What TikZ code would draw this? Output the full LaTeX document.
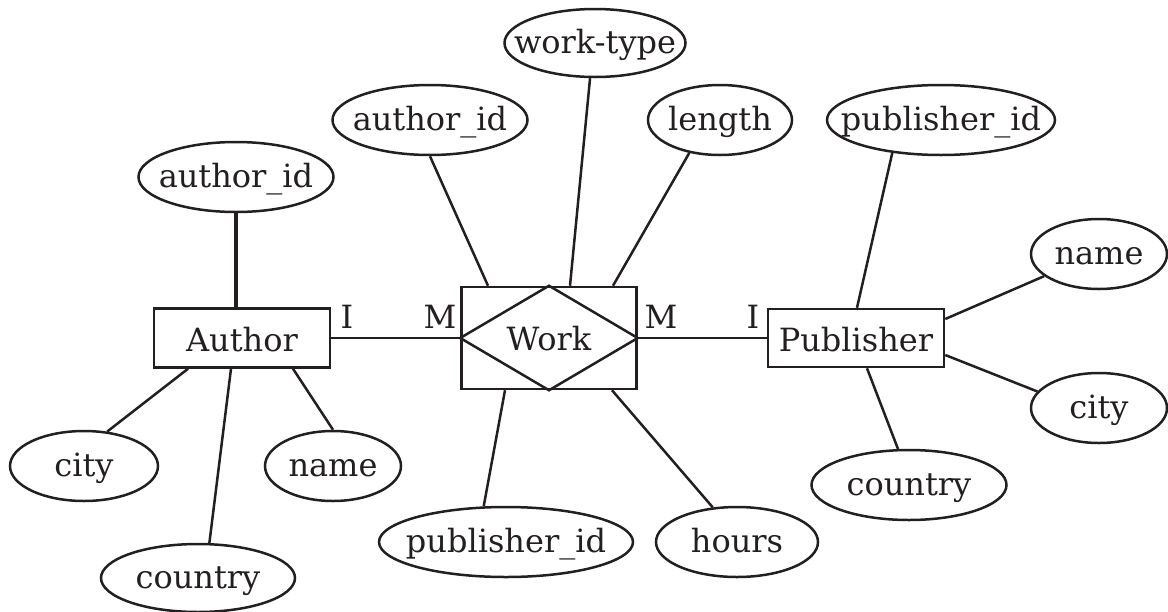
\documentclass[tikz,border=0pt]{standalone}
\usepackage{fontspec}
\setmainfont{DejaVu Serif}
\usetikzlibrary{shapes.geometric}
\definecolor{ink}{HTML}{231F20}
\begin{document}
\begin{tikzpicture}[x=1pt,y=-1pt,
  every node/.style={font=\fontsize{32}{38}\selectfont, text=ink},
  attr/.style={ellipse, draw=ink, line width=2.5pt, inner sep=0pt,
    minimum width=#1, minimum height=70pt, text height=26pt, text depth=6pt},
  entity/.style={rectangle, draw=ink, line width=2.5pt, inner sep=0pt,
    minimum width=176pt, minimum height=59pt, text height=26pt, text depth=0pt},
  relbox/.style={rectangle, draw=ink, line width=2.5pt, inner sep=0pt,
    minimum width=175pt, minimum height=102pt, text height=24pt, text depth=0pt},
  card/.style={anchor=base, inner sep=0pt},
  conn/.style={draw=ink, line width=2.5pt},
  keyconn/.style={draw=ink, line width=3.5pt}]
\useasboundingbox (0,0) rectangle (1168,611);

% entities and relationship
\node[entity] (author) at (242,338) {Author};
\node[entity, minimum height=58pt] (pub) at (856,338) {Publisher};
\node[relbox] (work) at (549,338) {Work};
\draw[conn, line join=miter] (work.west) -- (work.north) -- (work.east) -- (work.south) -- cycle;

% attributes
\node[attr=195pt] (aidL) at (236,177) {\makebox[0pt]{author\_id}};
\node[attr=195pt] (aidM) at (430,120) {\makebox[0pt]{author\_id}};
\node[attr=181pt, minimum height=68pt] (wt) at (595,43) {\makebox[0pt]{work-type}};
\node[attr=144pt] (len) at (720,120) {\makebox[0pt]{length}};
\node[attr=228pt] (pidT) at (941,120) {\makebox[0pt]{publisher\_id}};
\node[attr=136pt] (nameR) at (1099,254) {\makebox[0pt]{name}};
\node[attr=136pt] (cityR) at (1099,408) {\makebox[0pt]{city}};
\node[attr=195pt] (cntR) at (909,485) {\makebox[0pt]{country}};
\node[attr=254pt] (pidB) at (506,542) {\makebox[0pt]{publisher\_id}};
\node[attr=162pt] (hours) at (737,542) {\makebox[0pt]{hours}};
\node[attr=148pt] (cityL) at (84,466) {\makebox[0pt]{city}};
\node[attr=136pt] (nameL) at (333,466) {\makebox[0pt]{name}};
\node[attr=194pt, minimum height=68pt] (cntL) at (198,578) {\makebox[0pt]{country}};

% cardinalities
\node[card] (c1) at (347,328) {I};
\node[card] (c2) at (440,328) {M};
\node[card] (c3) at (661,328) {M};
\node[card] (c4) at (753,328) {I};

% relationship lines
\draw[conn] (author.east) -- (work.west);
\draw[conn] (work.east) -- (pub.west);

% author attributes
\draw[keyconn] (aidL.south) -- (aidL.south |- author.north);
\draw[conn] ([xshift=-54pt]author.south) -- (cityL.56);
\draw[conn] ([xshift=-11pt]author.south) -- (cntL.72);
\draw[conn] ([xshift=51pt]author.south) -- (nameL.north);

% work attributes
\draw[conn] ([xshift=-61pt]work.north) -- (aidM.south);
\draw[conn] ([xshift=21pt]work.north) -- (wt.-98);
\draw[conn] ([xshift=64pt]work.north) -- (len.-133);
\draw[conn] ([xshift=-44pt]work.south) -- (pidB.122.5);
\draw[conn] ([xshift=63pt]work.south) -- (hours.125.7);

% publisher attributes
\draw[conn] ([xshift=1pt]pub.north) -- (pidT.-146.6);
\draw[conn] ([yshift=19pt]pub.east) -- (nameR.-158);
\draw[conn] ([yshift=-17pt]pub.east) -- (cityR.165);
\draw[conn] ([xshift=11pt]pub.south) -- (cntR.107);
\end{tikzpicture}
\end{document}
